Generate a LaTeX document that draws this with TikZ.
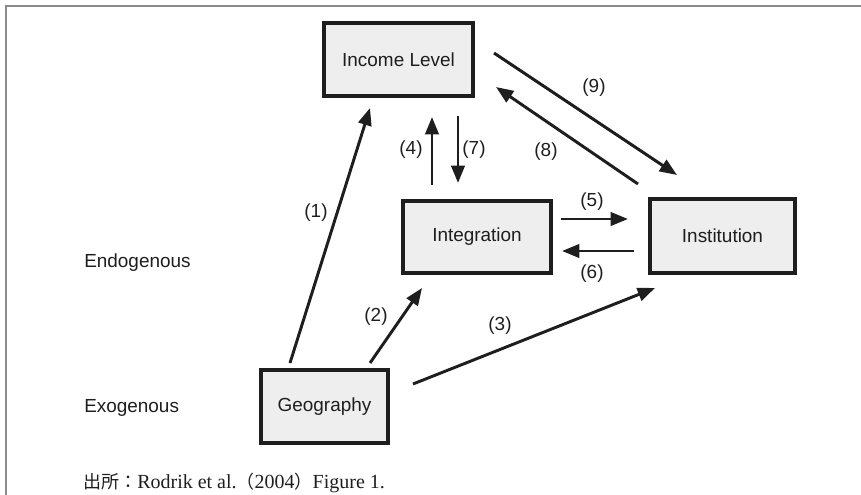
\documentclass[tikz,border=0pt]{standalone}
\usepackage{fontspec}
\setmainfont{Liberation Sans}
\newfontfamily\capserif{Liberation Serif}
\newfontfamily\cjk{Noto Sans CJK JP}
\usetikzlibrary{arrows.meta}
\definecolor{boxfill}{HTML}{EEEEEE}
\definecolor{ink}{HTML}{1E1E1E}
\definecolor{framegray}{HTML}{8A8A8A}
\begin{document}
\begin{tikzpicture}[x=0.75pt,y=-0.75pt,
  box/.style={draw=ink,line width=2.3pt,fill=boxfill,inner sep=0pt,
    font=\fontsize{14.2}{17}\selectfont,text=ink},
  lab/.style={font=\fontsize{14.2}{17}\selectfont,text=ink,inner sep=0pt},
  arr/.style={draw=ink,line width=2.2pt,-{Triangle[length=13pt,width=10pt]}}]
\useasboundingbox (0,0) rectangle (861,495);
\draw[framegray,line width=1.6pt] (6,495) -- (6,6) -- (861,6);

\node[box,minimum width=149*0.75pt,minimum height=73*0.75pt] (inc) at (398.5,59.5) {Income Level};
\node[box,minimum width=148*0.75pt,minimum height=72*0.75pt] (int) at (477,237) {Integration};
\node[box,minimum width=145*0.75pt,minimum height=74*0.75pt] (ins) at (722.5,236) {Institution};
\node[box,minimum width=127*0.75pt,minimum height=73*0.75pt] (geo) at (324.5,406.5) {Geography};

\node[lab,anchor=west] (endo) at (84,263) {Endogenous};
\node[lab,anchor=west] (exo) at (84,408) {Exogenous};

% arrow end points
\coordinate (a1s) at (290,363); \coordinate (a1e) at (370,108);
\coordinate (a2s) at (370,363); \coordinate (a2e) at (422,288);
\coordinate (a3s) at (413,384); \coordinate (a3e) at (655,288);
\coordinate (a4s) at (432,185); \coordinate (a4e) at (432,117);
\coordinate (a7s) at (458,116); \coordinate (a7e) at (458,183);
\coordinate (a5s) at (561,219); \coordinate (a5e) at (628,219);
\coordinate (a6s) at (634,251); \coordinate (a6e) at (562,251);
\coordinate (a9s) at (494,53);  \coordinate (a9e) at (677,175);
\coordinate (a8s) at (638,184); \coordinate (a8e) at (496,87);

\draw[arr] (a1s) -- (a1e);
\draw[arr] (a2s) -- (a2e);
\draw[arr] (a3s) -- (a3e);
\draw[arr] (a4s) -- (a4e);
\draw[arr] (a7s) -- (a7e);
\draw[arr] (a5s) -- (a5e);
\draw[arr] (a6s) -- (a6e);
\draw[arr] (a9s) -- (a9e);
\draw[arr] (a8s) -- (a8e);

\node[lab] (l1) at (316,213) {(1)};
\node[lab] (l2) at (376,317) {(2)};
\node[lab] (l3) at (500,326) {(3)};
\node[lab] (l4) at (411,150) {(4)};
\node[lab] (l5) at (592,202) {(5)};
\node[lab] (l6) at (592,274) {(6)};
\node[lab] (l7) at (474,150) {(7)};
\node[lab] (l8) at (546,152) {(8)};
\node[lab] (l9) at (594,88) {(9)};

\node[anchor=west,inner sep=0pt,text=ink] (cap) at (83,483)
  {{\fontsize{13.5}{16}\selectfont\cjk 出所：}{\fontsize{15}{17}\selectfont\capserif Rodrik et al.}{\fontsize{13.5}{16}\selectfont\cjk （}{\fontsize{15}{17}\selectfont\capserif 2004}{\fontsize{13.5}{16}\selectfont\cjk ）}{\fontsize{15}{17}\selectfont\capserif Figure 1.}};
\end{tikzpicture}
\end{document}
